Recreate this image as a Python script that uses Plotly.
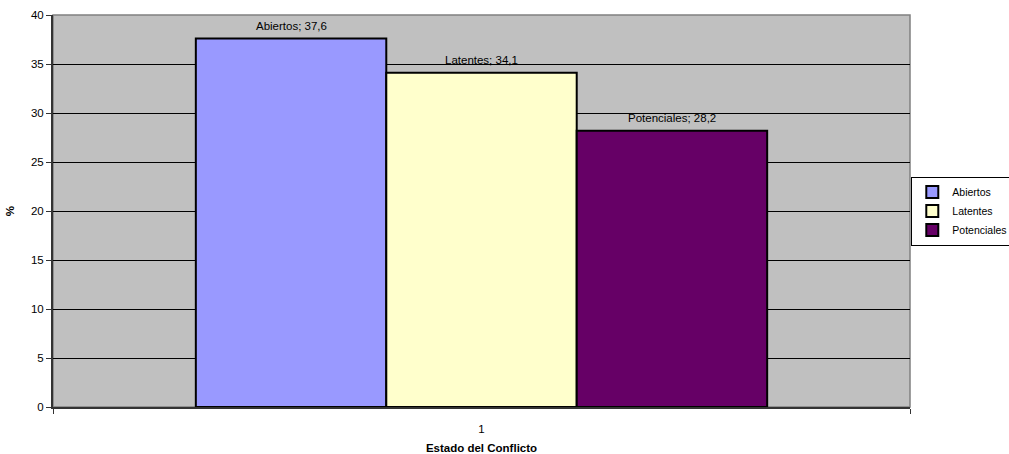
import plotly.graph_objects as go

# Conflict states and their share (%)
categories = ["1"]
series_names = ["Abiertos", "Latentes", "Potenciales"]
series_values = [37.6, 34.1, 28.2]
series_labels = ["37,6", "34,1", "28,2"]
series_colors = ["#9999FF", "#FFFFCC", "#660066"]
y_ticks = [0, 5, 10, 15, 20, 25, 30, 35, 40]

FONT = "Liberation Sans, Arial, sans-serif"
BARGAP = 1 / 3
n_series = len(series_names)
bar_w = (1 - BARGAP) / n_series

fig = go.Figure()
annotations = []
for i, (name, val, lab, col) in enumerate(zip(series_names, series_values, series_labels, series_colors)):
    fig.add_trace(go.Bar(
        name=name,
        x=categories,
        y=[val],
        marker=dict(color=col, line=dict(color="black", width=2)),
    ))
    # value label centred over each bar of the group
    annotations.append(dict(
        x=(i - (n_series - 1) / 2) * bar_w, y=val, xref="x", yref="y",
        text=f"{name}; {lab}", showarrow=False, yanchor="bottom", yshift=5,
        font=dict(family=FONT, size=11.5, color="black"),
    ))

fig.update_layout(
    width=1009,
    height=454,
    margin=dict(l=53, r=99, t=15, b=47, autoexpand=False),
    paper_bgcolor="white",
    plot_bgcolor="#C0C0C0",
    barmode="group",
    bargap=BARGAP,
    bargroupgap=0,
    font=dict(family=FONT, size=11.5, color="black"),
    annotations=annotations,
    legend=dict(
        x=1.0015, y=0.5, xanchor="left", yanchor="middle",
        bordercolor="black", borderwidth=1, bgcolor="white",
        font=dict(family=FONT, size=10.5, color="black"),
        itemwidth=30, tracegroupgap=0,
    ),
    xaxis=dict(
        showgrid=False,
        showline=True, linecolor="#333333", linewidth=2,
        ticks="outside", tickson="boundaries", ticklen=5, tickcolor="#333333",
        ticklabelstandoff=10,
        tickfont=dict(family=FONT, size=11.5),
        title=dict(text="<b>Estado del Conflicto</b>", font=dict(family=FONT, size=11.5), standoff=12),
    ),
    yaxis=dict(
        range=[0, 40],
        tickvals=y_ticks,
        showgrid=True, gridcolor="black", gridwidth=1,
        showline=True, linecolor="#333333", linewidth=2,
        ticks="outside", ticklen=5, tickcolor="#333333",
        tickfont=dict(family=FONT, size=11.5),
        title=dict(text="<b>%</b>", font=dict(family=FONT, size=11.5), standoff=14),
        zeroline=False,
    ),
    shapes=[dict(
        type="rect", xref="paper", yref="paper", x0=0, x1=1, y0=0, y1=1,
        line=dict(color="#808080", width=1.5), layer="below",
    )],
)

fig.write_html("out.html")
